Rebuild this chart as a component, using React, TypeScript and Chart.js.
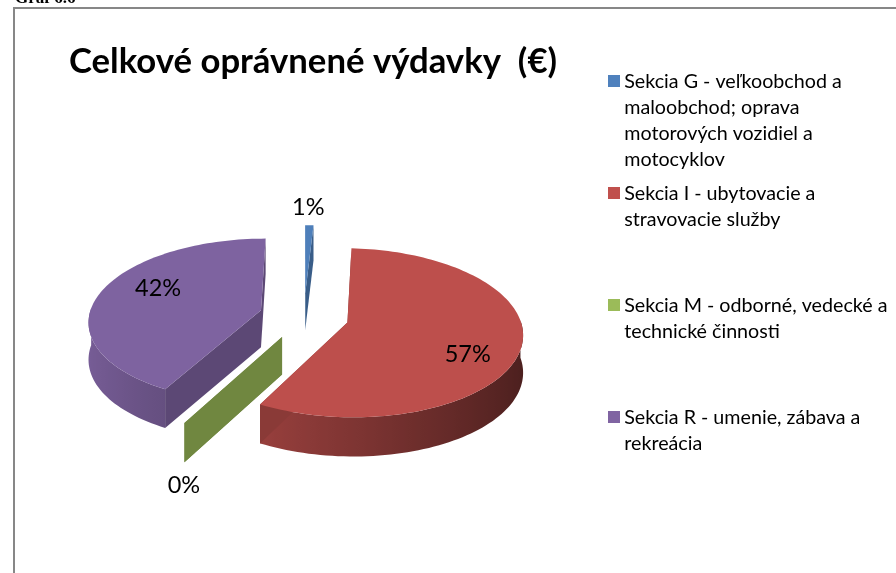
import React, { useEffect, useRef } from "react";
import { Chart, registerables } from "chart.js";

Chart.register(...registerables);

const categoryLines: string[][] = [
  ["Sekcia G - veľkoobchod a", "maloobchod; oprava", "motorových vozidiel a", "motocyklov"],
  ["Sekcia I - ubytovacie a", "stravovacie služby", "", ""],
  ["Sekcia M - odborné, vedecké a", "technické činnosti", "", ""],
  ["Sekcia R - umenie, zábava a", "rekreácia", "", ""],
];
const shares: number[] = [0.9, 57, 0, 42.1];
const baseColors: number[][] = [
  [79, 129, 189],
  [192, 80, 77],
  [155, 187, 89],
  [128, 100, 162],
];
const titleText = "Celkové oprávnené výdavky  (€)";
const captionText = "Graf 6.6";

// projection of the pie plane onto the page (oblique view with perspective)
const VIEW = { cx: 304, cy: 316, a: 172, k: 81.7, p: 0.121, depth: 37, explodeX: 0.26, explodeY: 0.285 };
// label placement along each slice's middle direction (fraction of radius), plus a nudge in pixels
const labelAlong = [1.28, 0.72, 1.05, 0.62];
const labelNudgeX = [-2, -4, 5, -3];
const labelNudgeY = [-1, 15, 58, -10];

const css = (c: number[], b = 1) =>
  `rgb(${Math.round(c[0] * b)},${Math.round(c[1] * b)},${Math.round(c[2] * b)})`;

const project = (u: number, v: number) => {
  const w = 1 - VIEW.p * v;
  return { x: VIEW.cx + (VIEW.a * u) / w, y: VIEW.cy + (VIEW.k * v) / w, s: 1 / w };
};

const piePlugin = {
  id: "obliquePie",
  beforeDraw(chart: any) {
    const ctx = chart.ctx;
    ctx.save();
    ctx.fillStyle = "#fff";
    ctx.fillRect(0, 0, chart.width, chart.height);
    ctx.strokeStyle = "#878787";
    ctx.lineWidth = 2;
    ctx.strokeRect(14, 8, 1200, 1200);
    ctx.fillStyle = "#000";
    ctx.font = "bold 17px 'Liberation Serif'";
    ctx.textBaseline = "alphabetic";
    ctx.textAlign = "left";
    ctx.fillText(captionText, 15, 3);
    ctx.restore();
  },
  beforeDatasetDraw(chart: any) {
    const ctx = chart.ctx;
    const arcs = chart.getDatasetMeta(0).data;
    const order = [0, 3, 2, 1];
    for (const i of order) {
      const el = arcs[i];
      const { startAngle, endAngle } = el.getProps(["startAngle", "endAngle"], true);
      const mid = (startAngle + endAngle) / 2;
      const ox = Math.cos(mid) * VIEW.explodeX;
      const oy = Math.sin(mid) * VIEW.explodeY;
      const at = (a: number) => project(ox + Math.cos(a), oy + Math.sin(a));
      const color = baseColors[i];
      const n = Math.max(1, Math.ceil((endAngle - startAngle) / 0.03));
      const pts: { x: number; y: number; s: number; a: number }[] = [];
      for (let j = 0; j <= n; j++) {
        const a = startAngle + ((endAngle - startAngle) * j) / n;
        pts.push({ ...at(a), a });
      }
      const apex = project(ox, oy);
      const dep = (q: { y: number; s: number }) => q.y + VIEW.depth * (1 + 0.4 * (q.s - 1));

      // outer wall: only the part that faces the viewer, shaded along its length
      const front = pts.filter((q) => Math.sin(q.a) > -0.05);
      const minX = Math.min(...pts.map((q) => q.x), ...front.map((q) => q.x));
      const maxX = Math.max(...front.map((q) => q.x), minX);
      if (front.length > 1 && maxX - minX > 0.5) {
        const grad = ctx.createLinearGradient(minX, 0, maxX, 0);
        front.forEach((q) => {
          const b = Math.max(0.4, 0.66 - 0.27 * Math.sin(q.a + Math.PI / 2));
          const t = Math.min(1, Math.max(0, (q.x - minX) / (maxX - minX)));
          grad.addColorStop(t, css(color, b));
        });
        ctx.fillStyle = grad;
        ctx.beginPath();
        front.forEach((q, j) => (j ? ctx.lineTo(q.x, q.y) : ctx.moveTo(q.x, q.y)));
        [...front].reverse().forEach((q) => ctx.lineTo(q.x, dep(q)));
        ctx.closePath();
        ctx.fill();
      }
      // radial walls
      for (const q of [pts[0], pts[n]]) {
        ctx.fillStyle = css(color, 0.72);
        ctx.beginPath();
        ctx.moveTo(apex.x, apex.y);
        ctx.lineTo(q.x, q.y);
        ctx.lineTo(q.x, dep(q));
        ctx.lineTo(apex.x, dep(apex));
        ctx.closePath();
        ctx.fill();
      }
      // top face
      if (endAngle > startAngle) {
        ctx.fillStyle = css(color, 0.985);
        ctx.beginPath();
        ctx.moveTo(apex.x, apex.y);
        pts.forEach((q) => ctx.lineTo(q.x, q.y));
        ctx.closePath();
        ctx.fill();
      }
    }
    // percentage labels
    const total = shares.reduce((s, v) => s + v, 0);
    ctx.save();
    ctx.fillStyle = "#000";
    ctx.font = "23.5px Lato";
    ctx.textAlign = "center";
    ctx.textBaseline = "middle";
    arcs.forEach((el: any, i: number) => {
      const { startAngle, endAngle } = el.getProps(["startAngle", "endAngle"], true);
      const mid = (startAngle + endAngle) / 2;
      const q = project(
        Math.cos(mid) * (labelAlong[i] + VIEW.explodeX),
        Math.sin(mid) * (labelAlong[i] + VIEW.explodeY)
      );
      ctx.fillText(`${Math.round((shares[i] / total) * 100)}%`, q.x + labelNudgeX[i], q.y + labelNudgeY[i]);
    });
    ctx.restore();
    return false;
  },
};

function legendMarker(color: number[]) {
  const c = document.createElement("canvas");
  c.width = 12;
  c.height = 12;
  const g = c.getContext("2d")!;
  g.fillStyle = css(color);
  g.fillRect(0, 0, 12, 12);
  return c;
}

export default function App() {
  const ref = useRef<HTMLCanvasElement>(null);
  useEffect(() => {
    const chart = new Chart(ref.current!, {
      type: "pie",
      data: {
        labels: categoryLines as any,
        datasets: [
          {
            data: shares,
            backgroundColor: baseColors.map((c) => css(c)),
            borderWidth: 0,
          },
        ],
      },
      options: {
        responsive: false,
        animation: false,
        layout: { padding: { left: 69, right: -1.5, top: 0, bottom: 0 } },
        plugins: {
          tooltip: { enabled: false },
          title: {
            display: true,
            text: titleText,
            align: "start",
            color: "#000",
            font: { family: "Lato", weight: "bold", size: 34.7, lineHeight: 1 },
            padding: { top: 44, bottom: -15.2 },
          },
          legend: {
            display: true,
            position: "right",
            align: "start",
            fullSize: false,
            labels: {
              color: "#000",
              font: { family: "Lato", size: 19.7, lineHeight: 26 / 19.7 },
              padding: 8,
              boxWidth: 1.5,
              boxHeight: 12,
              usePointStyle: true,
              pointStyleWidth: 1.5,
              generateLabels: () =>
                categoryLines.map((lines, i) => ({
                  text: lines as any,
                  fillStyle: css(baseColors[i]),
                  strokeStyle: css(baseColors[i]),
                  lineWidth: 0,
                  pointStyle: legendMarker(baseColors[i]) as any,
                  hidden: false,
                  index: i,
                })),
            },
          },
        },
      } as any,
      plugins: [piePlugin],
    });
    return () => chart.destroy();
  }, []);
  return (
    <div style={{ position: "absolute", left: 0, top: 0, width: 896, height: 573, overflow: "hidden" }}>
      <canvas ref={ref} width={896} height={573} style={{ display: "block" }} />
    </div>
  );
}
